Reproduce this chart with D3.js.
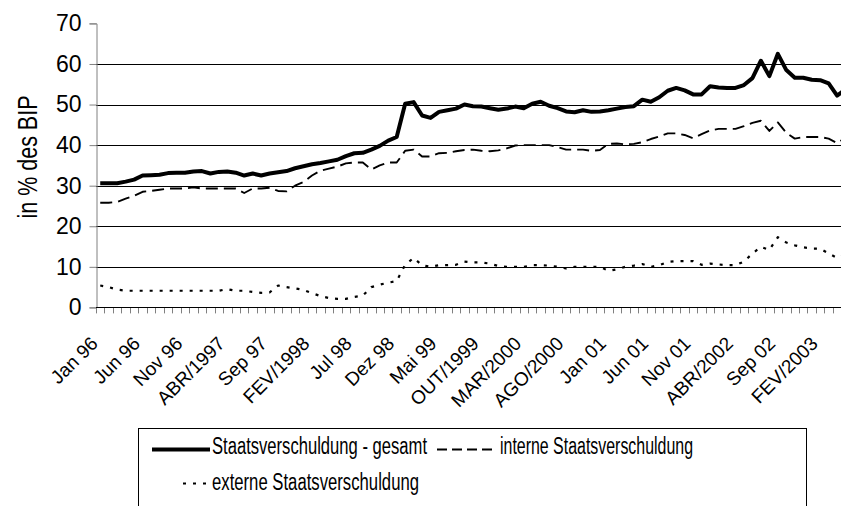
<!DOCTYPE html>
<html>
<head>
<meta charset="utf-8">
<script src="https://cdn.jsdelivr.net/npm/d3@7"></script>
<style>
  html, body { margin: 0; padding: 0; background: #fff; }
  svg { display: block; }
  text { font-family: "Liberation Sans", Arial, sans-serif; fill: #000; }
</style>
</head>
<body>
<svg id="chart" width="841" height="506"></svg>
<script>
// ---- data (monthly, Jan 1996 .. May 2003) ----
const categories = d3.timeMonth.range(new Date(1996, 0, 1), new Date(2003, 5, 1));
const tickLabels = ["Jan 96","Jun 96","Nov 96","ABR/1997","Sep 97","FEV/1998","Jul 98","Dez 98","Mai 99",
  "OUT/1999","MAR/2000","AGO/2000","Jan 01","Jun 01","Nov 01","ABR/2002","Sep 02","FEV/2003"];
const yTicks = [0, 10, 20, 30, 40, 50, 60, 70];

const gesamt = [
  30.6,30.6,30.6,31.0,31.5,32.5,32.6,32.7,33.1,33.2,
  33.2,33.5,33.6,33.0,33.4,33.5,33.2,32.5,33.0,32.5,
  33.0,33.3,33.6,34.3,34.8,35.3,35.6,36.0,36.4,37.3,
  38.0,38.1,38.9,39.8,41.1,42.0,50.2,50.6,47.3,46.7,
  48.2,48.6,49.0,50.0,49.6,49.5,49.1,48.7,49.0,49.5,
  49.1,50.2,50.7,49.7,49.1,48.3,48.1,48.6,48.2,48.3,
  48.6,49.0,49.4,49.6,51.2,50.7,51.8,53.4,54.1,53.5,
  52.5,52.5,54.5,54.2,54.1,54.1,54.8,56.5,60.8,57.0,
  62.5,58.5,56.6,56.6,56.1,56.0,55.2,52.2,53.7];
const intern = [
  25.8,25.8,26.0,26.8,27.5,28.5,28.7,29.0,29.3,29.3,
  29.3,29.6,29.3,29.3,29.3,29.3,29.3,28.2,29.3,29.3,
  29.5,28.7,28.6,30.0,30.9,32.5,33.7,34.2,34.7,35.5,
  35.7,35.7,34.0,35.0,35.7,35.7,38.6,38.9,37.2,37.2,
  38.0,38.1,38.5,38.8,38.9,38.6,38.5,38.7,39.2,39.9,
  40.0,40.0,40.0,40.0,39.5,38.9,38.9,38.9,38.6,38.8,
  40.3,40.4,40.2,40.3,40.7,41.5,42.1,42.9,42.9,42.5,
  41.7,42.7,43.6,44.0,44.0,44.0,44.7,45.5,46.0,43.5,
  45.6,43.0,41.6,42.0,42.0,42.0,41.6,40.5,41.8];
const extern = [
  5.4,5.0,4.4,4.1,4.1,4.1,4.1,4.1,4.1,4.1,
  4.1,4.1,4.1,4.1,4.1,4.5,4.1,4.1,3.8,3.6,
  3.7,5.4,5.0,4.7,4.3,3.5,2.8,2.3,2.1,2.1,
  2.6,2.9,5.0,5.6,6.1,6.5,10.5,12.2,10.4,10.0,
  10.4,10.4,10.5,11.3,11.1,11.1,10.8,10.2,10.0,10.0,
  10.0,10.4,10.4,10.3,10.0,9.6,10.0,10.0,10.0,10.0,
  9.0,9.4,10.0,10.3,10.7,10.0,10.4,11.2,11.4,11.4,
  11.4,10.5,10.8,10.6,10.4,10.4,11.3,13.3,14.9,14.2,
  17.3,16.0,15.3,14.8,14.5,14.5,13.3,12.2,13.0];

const seriesNames = ["Staatsverschuldung - gesamt", "interne Staatsverschuldung", "externe Staatsverschuldung"];
const yTitle = "in % des BIP";

// ---- layout ----
const svg = d3.select("#chart");
const left = 96, band = 8.47;
const right = left + band * categories.length;
const y0 = 307.4, y70 = 23.4;

const x = d3.scaleBand().domain(d3.range(categories.length)).range([left, right]).paddingInner(0).paddingOuter(0);
const cx = i => x(i) + x.bandwidth() / 2;
const y = d3.scaleLinear().domain([0, 70]).range([y0, y70]);

// gridlines
svg.append("g").selectAll("line").data(yTicks.filter(t => t > 0 && t < 70)).join("line")
  .attr("x1", left).attr("x2", right)
  .attr("y1", d => Math.round(y(d)) + 0.5).attr("y2", d => Math.round(y(d)) + 0.5)
  .attr("stroke", "#000").attr("stroke-width", 1);

// y axis
const yAxis = d3.axisLeft(y).tickValues(yTicks).tickSize(7).tickPadding(8).tickFormat(d3.format("d"));
const gy = svg.append("g").attr("transform", `translate(${left + 0.5},0)`).call(yAxis);
gy.select(".domain").attr("stroke", "#808080");
gy.selectAll(".tick line").attr("stroke", "#808080");
gy.selectAll(".tick text").attr("font-size", 23).attr("font-family", "Liberation Sans, Arial, sans-serif").attr("fill", "#000");

// x axis (ticks at category boundaries)
svg.append("g").selectAll("line").data(d3.range(categories.length + 1)).join("line")
  .attr("x1", d => Math.round(left + d * band) + 0.5).attr("x2", d => Math.round(left + d * band) + 0.5)
  .attr("y1", y0).attr("y2", y0 + 6)
  .attr("stroke", "#808080");
svg.append("line").attr("x1", left).attr("x2", right)
  .attr("y1", Math.round(y0) + 0.5).attr("y2", Math.round(y0) + 0.5).attr("stroke", "#000");

// x tick labels every 5 months
svg.append("g").selectAll("text").data(tickLabels).join("text")
  .attr("transform", (d, k) => `translate(${cx(k * 5) - 6},340) rotate(-45)`)
  .attr("text-anchor", "end").attr("dy", "0.35em")
  .attr("font-size", 19).text(d => d);

// y title
svg.append("text").attr("transform", `translate(37,157) rotate(-90)`)
  .attr("text-anchor", "middle").attr("font-size", 27)
  .attr("textLength", 123).attr("lengthAdjust", "spacingAndGlyphs").text(yTitle);

// lines
const line = data => d3.line().x((d, i) => cx(i)).y(d => y(d))(data);
const styles = [
  { data: gesamt, w: 4, dash: null },
  { data: intern, w: 1.9, dash: "12,6" },
  { data: extern, w: 2.2, dash: "3,7" }
];
styles.slice().reverse().forEach(s => {
  svg.append("path").attr("d", line(s.data)).attr("fill", "none")
    .attr("stroke", "#000").attr("stroke-width", s.w)
    .attr("stroke-linejoin", "round")
    .attr("stroke-dasharray", s.dash);
});

// legend
const lg = svg.append("g");
lg.append("rect").attr("x", 138.5).attr("y", 428.5).attr("width", 668).attr("height", 90)
  .attr("fill", "#fff").attr("stroke", "#000");
const legendItems = [
  { name: seriesNames[0], x1: 152, x2: 210, ly: 449.5, tx: 212, ty: 453.5, len: 215, s: styles[0] },
  { name: seriesNames[1], x1: 437, x2: 495, ly: 449.5, tx: 500, ty: 453.5, len: 193, s: { w: 1.9, dash: "10,5" } },
  { name: seriesNames[2], x1: 183, x2: 210, ly: 483.5, tx: 212, ty: 489.5, len: 207, s: styles[2] }
];
legendItems.forEach(it => {
  lg.append("line").attr("x1", it.x1).attr("x2", it.x2).attr("y1", it.ly).attr("y2", it.ly)
    .attr("stroke", "#000").attr("stroke-width", it.s.w).attr("stroke-dasharray", it.s.dash);
  lg.append("text").attr("x", it.tx).attr("y", it.ty).attr("font-size", 23)
    .attr("textLength", it.len).attr("lengthAdjust", "spacingAndGlyphs").text(it.name);
});
</script>
</body>
</html>
